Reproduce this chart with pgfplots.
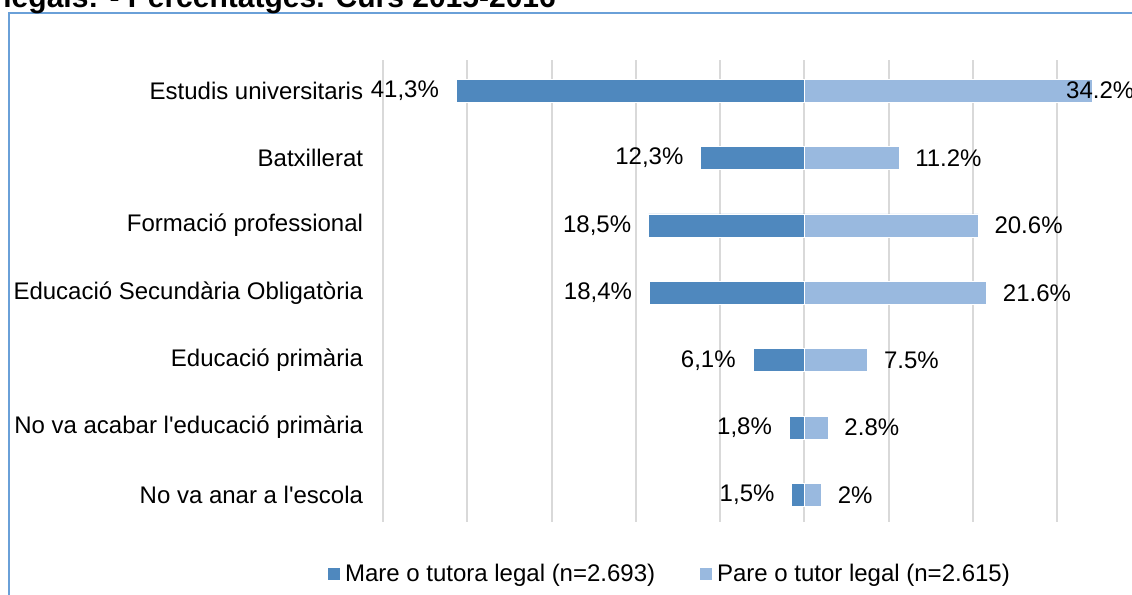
\documentclass[border=0pt]{standalone}
\usepackage{fontspec}
\setmainfont{Liberation Sans}
\usepackage{pgfplots}
\usepackage{pgfplotstable}
\pgfplotsset{compat=1.18}
\definecolor{mare}{HTML}{4F88BE}
\definecolor{pare}{HTML}{99B9DF}
\definecolor{gridc}{HTML}{D9D9D9}
\definecolor{framec}{HTML}{6AA0D8}

\pgfplotstableread{
y mare mlab
7 -41.3 41,3\%
6 -12.3 12,3\%
5 -18.5 18,5\%
4 -18.4 18,4\%
3 -6.1 6,1\%
2 -1.8 1,8\%
1 -1.5 1,5\%
}\mare

\pgfplotstableread{
y pare plab
7 34.2 {}
6 11.2 11.2\%
5 20.6 20.6\%
4 21.6 21.6\%
3 7.5 7.5\%
2 2.8 2.8\%
1 2.0 2\%
}\pare

\begin{document}
\begin{tikzpicture}
\useasboundingbox (0,0) rectangle (566pt,297.5pt);
\clip (0,0) rectangle (566pt,297.5pt);
\draw[framec, line width=1pt] (4.25pt,-20pt) rectangle (620pt,290.75pt);
\node[anchor=base west, inner sep=0pt, font=\bfseries\fontsize{15}{18}\selectfont] at (1.5pt,293.6pt) {legals: - Percentatges. Curs 2015-2016};
\begin{axis}[
  at={(191.5pt,36.5pt)}, anchor=south west,
  x=4.215pt, y=33.7pt,
  xmin=-50, xmax=40, ymin=0.6, ymax=7.45,
  xbar, bar width=11.5pt, bar shift=0pt,
  axis line style={draw=none}, tick style={draw=none},
  xtick={-50,-40,...,40}, xticklabels={},
  xmajorgrids, grid style={gridc, line width=1pt},
  ytick={1,...,7},
  yticklabels={No va anar a l\textquotesingle escola, No va acabar l\textquotesingle educació primària, Educació primària, Educació Secundària Obligatòria, Formació professional, Batxillerat, Estudis universitaris},
  yticklabel style={inner sep=0pt, xshift=-5.5pt, anchor=east},
  tick label style={font=\fontsize{12}{14}\selectfont},
  clip=false,
  point meta=explicit symbolic,
  legend columns=2,
  legend style={at={(axis description cs:0.379,-0.1126)}, anchor=center, draw=none,
    font=\fontsize{12}{14}\selectfont,
    /tikz/every even column/.append style={column sep=20pt}},
  legend image code/.code={\fill[#1] (0pt,-3.25pt) rectangle (6.5pt,3.25pt);},
]
\addplot[fill=mare, draw=white, line width=0.4pt,
  nodes near coords, every node near coord/.append style={anchor=east, inner sep=0pt, xshift=-8.5pt, font=\fontsize{12}{14}\selectfont, text=black}]
  table[x=mare, y=y, meta=mlab] {\mare};
\addlegendentry{Mare o tutora legal (n=2.693)}
\addplot[fill=pare, draw=white, line width=0.4pt,
  nodes near coords, every node near coord/.append style={anchor=west, inner sep=0pt, xshift=8pt, font=\fontsize{12}{14}\selectfont, text=black}]
  table[x=pare, y=y, meta=plab] {\pare};
\addlegendentry{Pare o tutor legal (n=2.615)}
\node[anchor=west, inner sep=0pt, font=\fontsize{12}{14}\selectfont] at (axis cs:31,7) {34.2\%};
\end{axis}
\end{tikzpicture}
\end{document}
